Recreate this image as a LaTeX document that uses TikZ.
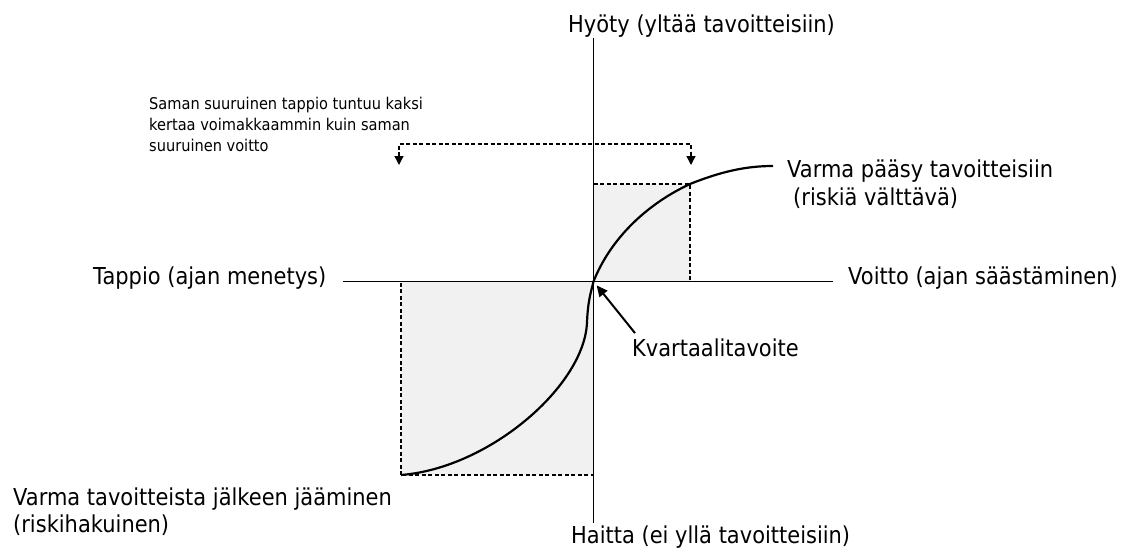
\documentclass[tikz,border=0pt]{standalone}
\usepackage{fontspec}
\setmainfont{DejaVu Sans}[FakeStretch=0.9]
\usetikzlibrary{arrows.meta}
\definecolor{boxfill}{HTML}{F1F1F1}
\begin{document}
\begin{tikzpicture}[x=1pt,y=-1pt,
  axisline/.style={line width=1.6pt,black},
  boxline/.style={line width=1.3pt,dash pattern=on 4pt off 2.5pt,fill=boxfill},
  curveline/.style={line width=2.2pt,black},
  brk/.style={line width=1.3pt,dash pattern=on 4pt off 2.5pt,{Triangle[length=9pt,width=9pt]}-{Triangle[length=9pt,width=9pt]}},
  pointer/.style={line width=2pt,-{Triangle[length=11pt,width=10pt]}},
  biglabel/.style={inner sep=0pt,anchor=base west,font=\fontsize{23.3}{28}\selectfont},
  notelabel/.style={inner sep=0pt,anchor=base west,font=\fontsize{16.2}{21}\selectfont}]
\path[use as bounding box] (0,0) rectangle (1133,554);
% key points
\coordinate (O) at (593.5,281.5);
\coordinate (top) at (593.5,38);
\coordinate (bot) at (593.5,523);
\coordinate (lft) at (343,281.5);
\coordinate (rgt) at (833,281.5);
\coordinate (LL) at (401,475);
\coordinate (UR) at (690,184);
\coordinate (E) at (773,166);
\coordinate (bl) at (399,165);
\coordinate (br) at (691,165);
% shaded boxes
\draw[boxline] (LL) rectangle (O);
\draw[boxline] (O) rectangle (UR);
% axes
\draw[axisline] (top) -- (bot);
\draw[axisline] (lft) -- (rgt);
% value curve
\draw[curveline] (LL) .. controls (490,468) and (585,385) .. (587,322)
  .. controls (588,300) and (591,292) .. (O)
  .. controls (610,240) and (645,205) .. (UR)
  .. controls (720,172) and (745,166) .. (E);
% bracket
\draw[brk] (bl) -- ++(0,-21) -| (br);
% labels
\node[biglabel] (hyoty) at (568,32) {Hyöty (yltää tavoitteisiin)};
\node[biglabel] (haitta) at (571,543) {Haitta (ei yllä tavoitteisiin)};
\node[biglabel] (tappio) at (93,284) {Tappio (ajan menetys)};
\node[biglabel] (voitto) at (848,284) {Voitto (ajan säästäminen)};
\node[biglabel] (varma1) at (787,177) {Varma pääsy tavoitteisiin};
\node[biglabel] (varma2) at (793,205) {(riskiä välttävä)};
\node[biglabel] (jalk1) at (13,505) {Varma tavoitteista jälkeen jääminen};
\node[biglabel] (jalk2) at (13,532) {(riskihakuinen)};
\node[biglabel] (K) at (632,356) {Kvartaalitavoite};
\node[notelabel] (note1) at (149,109) {Saman suuruinen tappio tuntuu kaksi};
\node[notelabel] (note2) at (149,130) {kertaa voimakkaammin kuin saman};
\node[notelabel] (note3) at (149,151) {suuruinen voitto};
% pointer
\draw[pointer,shorten >=5pt] ([xshift=3pt,yshift=5pt]K.north west) -- (O);
\end{tikzpicture}
\end{document}
